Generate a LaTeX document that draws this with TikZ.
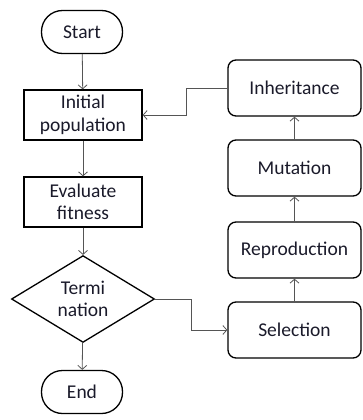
\documentclass[tikz,border=0pt]{standalone}
\usepackage{fontspec}
\setmainfont{Carlito}
\usepackage{xcolor}
\definecolor{linegray}{HTML}{555555}
\definecolor{textink}{HTML}{1A1A2A}
\usepackage{tikz}
\usetikzlibrary{positioning,shapes.geometric,arrows.meta}

\tikzset{
  terminal/.style={draw, line width=1.3pt, rounded corners=21pt,
    minimum width=81pt, minimum height=43pt, inner sep=0pt},
  process/.style={draw, line width=1.3pt, align=center,
    minimum width=118pt, minimum height=50pt, inner sep=0pt},
  decision/.style={draw, diamond, line width=1.3pt, align=center,
    minimum width=143pt, minimum height=81pt, inner sep=0pt},
  stage/.style={draw, line width=1.3pt, rounded corners=8pt,
    minimum width=133pt, minimum height=56pt, inner sep=0pt},
  link/.style={draw=linegray, line width=0.8pt, ->,
    >={Straight Barb[length=4pt,width=9pt]}}
}

\begin{document}
\begin{tikzpicture}[x=1pt, y=-1pt, font=\fontsize{19.5}{22.5}\selectfont,
    text=textink]
  \useasboundingbox (0,0) rectangle (362,420);

  % main column
  \node[terminal] (start) at (82,32)  {Start};
  \node[process]  (init)  at (83,115) {Initial\\population};
  \node[process]  (eval)  at (83,202) {Evaluate\\fitness};
  \node[decision] (term)  at (83,299) {Termi\\nation};
  \node[terminal] (end)   at (82,392) {End};

  % loop column
  \node[stage] (inher) at (294.5,88)  {Inheritance};
  \node[stage] (mut)   at (294.5,168) {Mutation};
  \node[stage] (repro) at (294.5,250) {Reproduction};
  \node[stage] (sel)   at (294.5,330) {Selection};

  \draw[link] (start) -- (init);
  \draw[link] (init) -- (eval);
  \draw[link] (eval) -- (term);
  \draw[link] (term) -- (end);

  \draw[link] (term.east) -- (191,299) |- (sel.west);
  \draw[link] (sel) -- (repro);
  \draw[link] (repro) -- (mut);
  \draw[link] (mut) -- (inher);
  \draw[link] (inher.west) -- (186,88) |- (init.east);
\end{tikzpicture}
\end{document}
